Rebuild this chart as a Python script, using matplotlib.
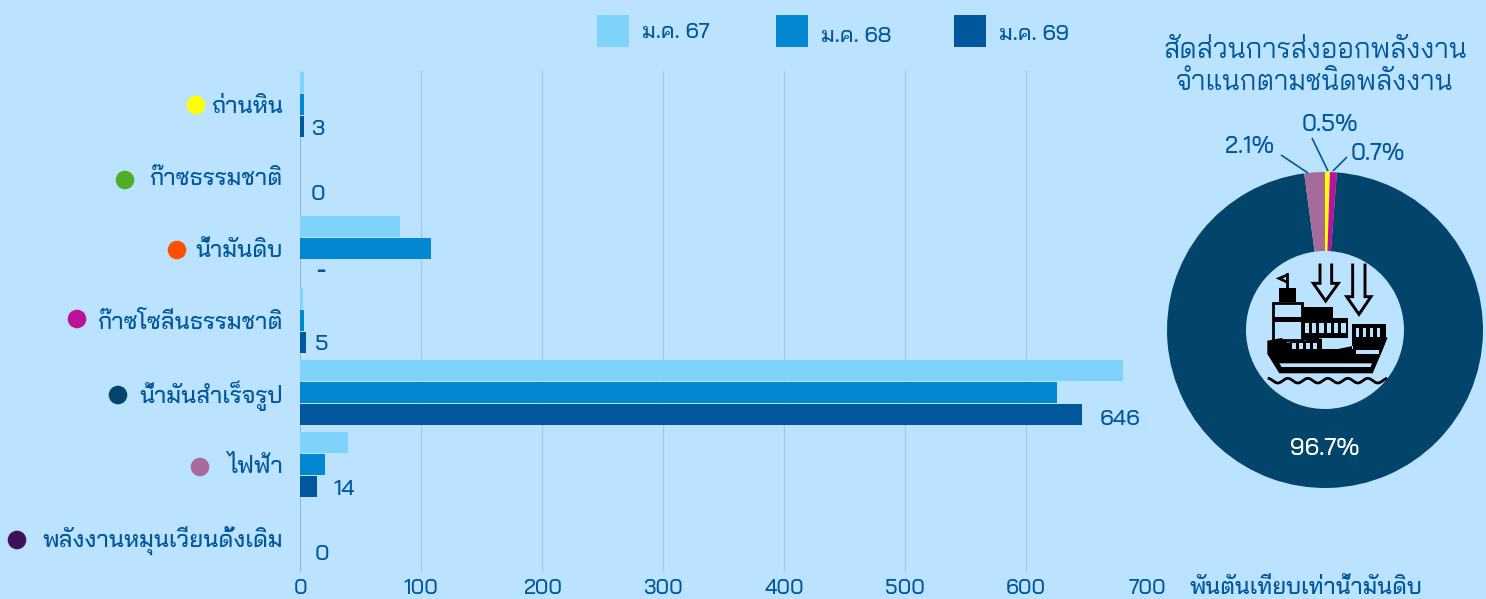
import numpy as np
import matplotlib
matplotlib.use('Agg')
import matplotlib.pyplot as plt
from matplotlib.patches import Circle, Polygon, Rectangle

plt.rcParams['font.family'] = ['Bai Jamjuree', 'DejaVu Sans']
plt.rcParams['font.weight'] = 500

# energy exports, thousand tonnes of crude oil equivalent
categories = ['ถ่านหิน', 'ก๊าซธรรมชาติ', 'น้ำมันดิบ', 'ก๊าซโซลีนธรรมชาติ',
              'น้ำมันสำเร็จรูป', 'ไฟฟ้า', 'พลังงานหมุนเวียนดั้งเดิม']
jan67 = [3, 0, 82, 2.5, 680, 39.5, 0]
jan68 = [3, 0, 108, 3, 625.5, 20.5, 0]
jan69 = [3, 0, 0, 5, 646, 14, 0]
jan69_labels = ['3', '0', '-', '5', '646', '14', '0']
series_names = ['ม.ค. 67', 'ม.ค. 68', 'ม.ค. 69']
x_ticks = [0, 100, 200, 300, 400, 500, 600, 700]

share_labels = ['0.5%', '0.7%', '96.7%', '2.1%']
share_values = [0.5, 0.7, 96.7, 2.1]

BG = '#BBE3FF'
TEXT = '#01579B'
NAVY = '#03446A'
MAUVE = '#A66B9A'
MAGENTA = '#BC119B'
bar_colors = ['#7FD3FA', '#0288D1', '#01579B']
dot_colors = ['#FFFF00', '#4EAE2A', '#FF5000', MAGENTA, NAVY, MAUVE, '#3F1158']
share_colors = ['#FFFF00', MAGENTA, NAVY, MAUVE]

W, H = 1486, 599


def px_axes(fig, x0, y0, x1, y1, **kw):
    """Axes placed by pixel box, measured from the top-left corner."""
    return fig.add_axes([x0 / W, 1 - y1 / H, (x1 - x0) / W, (y1 - y0) / H], **kw)


fig = plt.figure(figsize=(W / 100, H / 100), dpi=100, facecolor=BG)

# bars
ax = px_axes(fig, 300.3, 71, 1147.3, 572, facecolor='none')
ax.set_xlim(0, 700)
ax.set_ylim(6.5, -0.5 + 3 / 72)
y = np.arange(len(categories))
step = 22 / 72
for offset, vals, c in zip([-step, 0, step], [jan67, jan68, jan69], bar_colors):
    shown = [i for i, v in enumerate(vals) if v > 0]
    ax.barh(y[shown] + offset, [vals[i] for i in shown], height=21 / 72, color=c,
            linewidth=0, zorder=3)
ax.set_xticks(x_ticks)
ax.set_yticks(y, categories)
ax.tick_params(axis='x', length=0, pad=5, labelsize=15, labelcolor=TEXT)
ax.tick_params(axis='y', length=0, pad=12.6, labelsize=16.8, labelcolor=TEXT)
ax.grid(axis='x', color='#9CCBEE', linewidth=0.9, zorder=1)
for sp in ax.spines.values():
    sp.set_visible(False)
ax.axvline(0, color='#8DB8DC', linewidth=1.3, zorder=2)

# value labels beside the newest bars, offsets in pixels
label_dx = [7, 10.5, 15.5, 8.5, 17.5, 16.5, 14.5]
label_dy = [-3, 4, 0, -2, -5, -3, 4]
for i, (v, lab) in enumerate(zip(jan69, jan69_labels)):
    ax.annotate(lab, (v, i + step), xytext=(label_dx[i], label_dy[i]),
                textcoords='offset pixels', ha='left', va='center',
                fontsize=16, color=TEXT, zorder=4,
                fontweight=800 if lab == '-' else 500)

# overlay in pixel coordinates for dots, legend, titles
ov = px_axes(fig, 0, 0, W, H, facecolor='none')
ov.set_xlim(0, W)
ov.set_ylim(H, 0)
ov.axis('off')

dot_x = [196, 125, 177, 77, 118, 200, 17]
dot_y = [105, 180, 250, 319, 395, 467, 540]
for dx, dy, c in zip(dot_x, dot_y, dot_colors):
    ov.add_patch(Circle((dx, dy), 9.3, color=c, lw=0))

legend_x = [597, 776, 954]
legend_ty = [33, 37, 34]
for lx, ty, c, name in zip(legend_x, legend_ty, bar_colors, series_names):
    ov.add_patch(Rectangle((lx, 15), 32, 31.5, color=c, lw=0))
    ov.text(lx + 45, ty, name, color=TEXT, fontsize=15.6, ha='left', va='center')

ov.text(1315, 51, 'สัดส่วนการส่งออกพลังงาน', color=TEXT, fontsize=20, fontweight=400,
        ha='center', va='center')
ov.text(1315, 83, 'จำแนกตามชนิดพลังงาน', color=TEXT, fontsize=20, fontweight=400,
        ha='center', va='center')
ov.text(1306, 588, 'พันตันเทียบเท่าน้ำมันดิบ', color=TEXT, fontsize=16.5, ha='center', va='center')

# export share donut, clockwise from twelve o'clock
pie = px_axes(fig, 1167, 172, 1483, 488, facecolor='none')
pie.pie(share_values, colors=share_colors, startangle=90, counterclock=False, radius=1.0,
        wedgeprops={'width': 0.5, 'linewidth': 0})
pie.set_xlim(-1, 1)
pie.set_ylim(-1, 1)
pie.set_aspect('equal')

ov2 = px_axes(fig, 0, 0, W, H, facecolor='none')
ov2.set_xlim(0, W)
ov2.set_ylim(H, 0)
ov2.axis('off')
ov2.text(1325, 449, share_labels[2], color='white', fontsize=17, ha='center', va='center')
share_pos = {0: (1330, 125), 1: (1378, 154), 3: (1250, 147)}
leaders = {0: [(1312, 138), (1328, 171)], 1: [(1347, 157), (1333, 171)], 3: [(1281, 155), (1308, 173)]}
for i, pos in share_pos.items():
    ov2.text(pos[0], pos[1], share_labels[i], color=TEXT, fontsize=16.5, ha='center', va='center')
    (x0, y0), (x1, y1) = leaders[i]
    ov2.plot([x0, x1], [y0, y1], color=TEXT, lw=1.2, solid_capstyle='butt')

# ship icon in the hole of the donut
ic = px_axes(fig, 1150, 100, 1486, 400, facecolor='none')
ic.set_xlim(0, 1008)
ic.set_ylim(900, 0)
ic.axis('off')
K = 'black'
for pts in ([(510, 495), (510, 550), (490, 550), (527, 603), (565, 550), (545, 550), (545, 495)],
            [(608, 495), (608, 590), (590, 590), (627, 643), (663, 590), (645, 590), (645, 495)]):
    xs, ys = zip(*pts)
    ic.plot(xs, ys, color=K, lw=2.1, solid_joinstyle='miter')
# flag and funnel
ic.plot([412, 412], [522, 570], color=K, lw=2)
ic.add_patch(Polygon([(377, 535), (414, 520), (414, 552)], color=K, lw=0))
ic.add_patch(Polygon([(398, 535), (408, 531), (408, 541)], color=BG, lw=0))
ic.add_patch(Rectangle((387, 565), 50, 42, color=K, lw=0))
# bridge
ic.add_patch(Rectangle((368, 608), 88, 112, fc=BG, ec=K, lw=2))
ic.add_patch(Rectangle((368, 652), 88, 14, color=K, lw=0))
# container stacks
ic.add_patch(Rectangle((458, 620), 92, 38, color=K, lw=0))
ic.add_patch(Rectangle((458, 655), 135, 60, color=K, lw=0))
for cx in range(464, 590, 22):
    ic.add_patch(Rectangle((cx, 668), 13, 32, color=BG, lw=0))
ic.add_patch(Rectangle((607, 672), 100, 46, color=K, lw=0))
for cx in range(617, 700, 21):
    ic.add_patch(Rectangle((cx, 684), 11, 28, color=BG, lw=0))
# hull
ic.add_patch(Polygon([(352, 722), (395, 714), (412, 728), (500, 716), (712, 714), (700, 745),
                      (668, 820), (388, 820), (352, 762)], color=K, lw=0))
ic.add_patch(Rectangle((516, 714), 92, 34, color=BG, lw=0))
ic.add_patch(Polygon([(606, 712), (712, 712), (712, 716), (550, 750), (606, 750)], color=K, lw=0))
ic.add_patch(Rectangle((458, 712), 50, 8, color=K, lw=0))
for cx in range(426, 490, 21):
    ic.add_patch(Rectangle((cx, 730), 11, 16, color=BG, lw=0))
ic.add_patch(Rectangle((618, 750), 68, 12, color=BG, lw=0))
ic.add_patch(Polygon([(388, 790), (666, 790), (662, 801), (395, 801)], color=BG, lw=0))
# waves under the ship
wx = np.linspace(357, 708, 200)
ic.plot(wx, 842 + 7 * np.sin((wx - 357) / 60 * 2 * np.pi - 1.2), color=K, lw=2)

fig.savefig('out.png', dpi=100, facecolor=BG)
